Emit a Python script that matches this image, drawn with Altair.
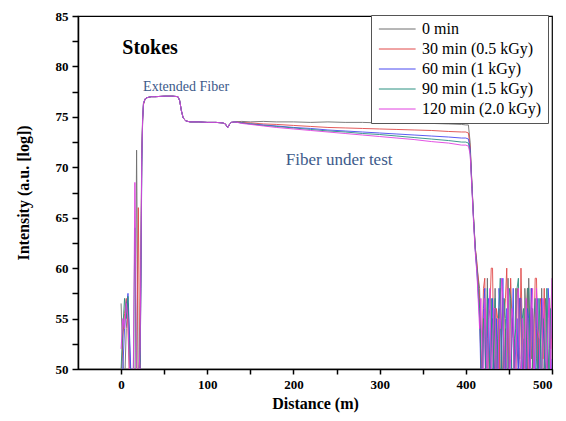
import altair as alt
import pandas as pd

series = ["0 min", "30 min (0.5 kGy)", "60 min (1 kGy)", "90 min (1.5 kGy)", "120 min (2.0 kGy)"]
colors = ["#6e6e6e", "#e04848", "#4848f0", "#2a9080", "#e040e0"]

# distance sections (m)
x_start = [0, 2, 4, 6, 8, 10, 12, 14, 16, 18, 20, 22, 23, 24, 25, 26, 28, 30]
x_plateau = [35, 40, 50, 60, 66, 68, 70, 72, 75, 80, 90, 100, 110, 118, 121, 123, 124, 126, 128, 132]
x_mid = [140, 150, 165, 180, 200, 220, 240, 260, 280, 300, 320, 340, 360, 380, 395]
x_drop = [400, 403, 405, 407, 409, 411, 413]
x_tail = [416, 417.5, 419, 420.5, 422, 423.5, 425, 426.5, 428, 429.5, 431, 432.5, 434, 435.5,
          437, 438.5, 440, 441.5, 443, 444.5, 446, 447.5, 449, 450.5, 452, 453.5, 455, 456.5,
          458, 459.5, 461, 462.5, 464, 465.5, 467, 468.5, 470, 471.5, 473, 474.5, 476, 477.5,
          479, 480.5, 482, 483.5, 485, 486.5, 488, 489.5, 491, 492.5, 494, 495.5, 497, 498.5, 500]

# shared plateau (extended fiber) intensity
plateau = [77.0, 77.0, 77.05, 77.05, 77.0, 76.6, 75.6, 74.9, 74.6, 74.5, 74.5, 74.45,
           74.45, 74.4, 74.3, 74.0, 73.95, 74.3, 74.45, 74.5]

start_0 = [56.5, 51, 48, 54, 56.5, 52, 48, 48, 48, 71.7, 48, 52, 62, 72, 75, 76.3, 76.8, 76.9]
start_30 = [49, 53, 55.5, 57, 54, 48, 48, 48, 48, 48, 66, 48, 60, 71, 74.5, 76.2, 76.8, 76.9]
start_60 = [48, 50, 54, 56, 57.5, 53, 48, 48, 48, 48, 48, 50, 58, 70, 74.6, 76.3, 76.8, 76.9]
start_90 = [50, 54, 57, 55, 57.2, 50, 48, 48, 64, 48, 48, 51, 59, 70.5, 74.8, 76.4, 76.8, 76.9]
start_120 = [52, 55, 54, 56.5, 55, 49, 48, 48, 68.5, 48, 48, 52, 61, 71, 74.8, 76.4, 76.8, 76.9]

mid_0 = [74.55, 74.5, 74.55, 74.5, 74.5, 74.45, 74.5, 74.45, 74.45, 74.4, 74.45, 74.4, 74.35, 74.3, 74.25]
mid_30 = [74.45, 74.4, 74.3, 74.25, 74.15, 74.05, 73.95, 73.9, 73.85, 73.8, 73.75, 73.7, 73.65, 73.55, 73.5]
mid_60 = [74.4, 74.3, 74.2, 74.1, 73.95, 73.85, 73.7, 73.6, 73.5, 73.4, 73.3, 73.2, 73.1, 73.0, 72.9]
mid_90 = [74.4, 74.3, 74.15, 74.05, 73.9, 73.75, 73.6, 73.5, 73.35, 73.25, 73.1, 72.95, 72.8, 72.65, 72.5]
mid_120 = [74.35, 74.25, 74.1, 73.95, 73.8, 73.65, 73.5, 73.35, 73.2, 73.05, 72.9, 72.75, 72.55, 72.4, 72.2]

drop_0 = [74.2, 74.2, 72.5, 68.5, 65.0, 62.0, 60.0]
drop_30 = [73.5, 73.4, 72.0, 68.5, 65.0, 62.0, 60.5]
drop_60 = [72.9, 72.8, 71.8, 68.3, 64.8, 61.8, 59.5]
drop_90 = [72.5, 72.4, 71.5, 68.2, 64.8, 61.8, 59.8]
drop_120 = [72.2, 72.1, 71.3, 68.0, 64.5, 61.5, 59.3]

tail_0 = [58, 52, 49, 53, 56, 47, 59, 51, 47, 54, 55, 49, 58, 47, 52, 56, 48, 53, 57, 50,
          54, 47, 59, 51, 46, 55, 53, 48, 58, 52, 50, 57, 56, 50, 47, 58, 55, 48, 59, 53,
          51, 56, 48, 54, 57, 49, 53, 47, 58, 51, 46, 57, 55, 48, 52, 55, 59]
tail_30 = [57, 50, 52, 58, 59, 49, 48, 55, 56, 60, 60, 51, 49, 56, 55, 47, 58, 53, 47, 55,
           57, 60, 52, 48, 59, 55, 54, 49, 48, 58, 57, 51, 60, 54, 50, 47, 55, 58, 46, 52,
           58, 49, 53, 59, 59, 52, 49, 57, 56, 51, 58, 47, 47, 55, 57, 52, 54]
tail_60 = [55, 49, 47, 56, 58, 46, 53, 57, 49, 52, 57, 48, 51, 55, 46, 58, 56, 50, 59, 47,
           50, 56, 54, 48, 47, 53, 58, 50, 52, 55, 49, 57, 57, 47, 53, 51, 46, 56, 55, 49,
           58, 52, 50, 48, 54, 57, 47, 52, 57, 55, 52, 48, 49, 58, 56, 47, 51]
tail_90 = [56, 51, 46, 55, 54, 47, 58, 52, 50, 57, 47, 53, 57, 48, 53, 56, 59, 50, 48, 57,
           55, 46, 50, 58, 57, 49, 46, 53, 54, 58, 59, 51, 49, 55, 56, 47, 52, 58, 58, 53,
           47, 51, 55, 57, 51, 48, 57, 53, 49, 55, 54, 47, 58, 52, 48, 56, 53]
tail_120 = [54, 57, 50, 48, 57, 53, 47, 55, 58, 49, 52, 56, 56, 47, 48, 55, 54, 59, 57, 50,
            46, 53, 58, 49, 51, 56, 55, 47, 49, 57, 58, 52, 47, 55, 54, 49, 57, 53, 51, 47,
            56, 58, 48, 52, 58, 54, 53, 48, 47, 57, 56, 51, 50, 55, 57, 49, 59]

annot_text = ["Stokes", "Extended Fiber", "Fiber under test"]
annot_x = [33.6, 75.4, 253]
annot_y = [81.8, 77.96, 70.7]

x_all = x_start + x_plateau + x_mid + x_drop + x_tail
parts = [
    (start_0, mid_0, drop_0, tail_0),
    (start_30, mid_30, drop_30, tail_30),
    (start_60, mid_60, drop_60, tail_60),
    (start_90, mid_90, drop_90, tail_90),
    (start_120, mid_120, drop_120, tail_120),
]
rows = []
for k, (name, (s, m, d, t)) in enumerate(zip(series, parts)):
    vals = s + plateau + m + d + t
    for xi, yi in zip(x_all, vals):
        rows.append({"series": name, "order": k, "distance": xi, "intensity": yi})
df = pd.DataFrame(rows)

FONT = "Liberation Serif"

xscale = alt.Scale(domain=[-50, 500], nice=False, zero=False)
yscale = alt.Scale(domain=[50, 85], nice=False, zero=False)
x_axis = alt.Axis(values=list(range(0, 501, 50)),
                  labelExpr="datum.value % 100 == 0 ? datum.label : ''",
                  tickSize=5, labelPadding=4, titlePadding=4)
y_axis = alt.Axis(values=[50 + 2.5 * i for i in range(15)],
                  labelExpr="datum.value % 5 == 0 ? format(datum.value, 'd') : ''",
                  tickSize=6, labelPadding=4, titlePadding=24)
X_TITLE = "Distance (m)"
Y_TITLE = "Intensity (a.u. [log])"

lines = alt.Chart(df).mark_line(strokeWidth=0.9, clip=True).encode(
    x=alt.X("distance:Q", scale=xscale, title=X_TITLE, axis=x_axis),
    y=alt.Y("intensity:Q", scale=yscale, title=Y_TITLE, axis=y_axis),
    color=alt.Color("series:N", sort=series,
                    scale=alt.Scale(domain=series, range=colors),
                    legend=alt.Legend(title=None, orient="none", legendX=293, legendY=-1,
                                      symbolType="M-1,0H5", symbolSize=150,
                                      symbolStrokeWidth=1, labelFontSize=16,
                                      labelColor="black", labelOffset=29,
                                      strokeColor="#555555", fillColor="white",
                                      padding=6, rowPadding=4)),
    detail="series:N",
)

adf = pd.DataFrame({"text": annot_text, "x": annot_x, "y": annot_y})

def annot(i, size, weight, color):
    return alt.Chart(adf.iloc[[i]]).mark_text(
        fontSize=size, fontWeight=weight, color=color
    ).encode(x=alt.X("x:Q", scale=xscale, title=X_TITLE, axis=x_axis),
             y=alt.Y("y:Q", scale=yscale, title=Y_TITLE, axis=y_axis), text="text:N")

chart = alt.layer(
    lines,
    annot(0, 20, "bold", "black"),
    annot(1, 14, "normal", "#3d5a8a"),
    annot(2, 17, "normal", "#3d5a8a"),
).properties(
    width=474, height=353,
    autosize=alt.AutoSizeParams(type="none"),
    padding={"left": 70, "top": 8, "right": 6, "bottom": 44},
).configure(
    font=FONT,
).configure_axis(
    labelFont=FONT, labelFontSize=13, labelFontWeight="bold", labelColor="black",
    titleFont=FONT, titleFontSize=16, titleFontWeight="bold", titleColor="black",
    domainColor="black", domainWidth=1.5, tickColor="black", tickWidth=1.5, grid=False,
).configure_legend(
    labelFont=FONT,
).configure_text(
    font=FONT,
).configure_view(stroke="black", strokeWidth=1.2)

chart.save("out.html", embed_options={"renderer": "svg", "actions": False})
